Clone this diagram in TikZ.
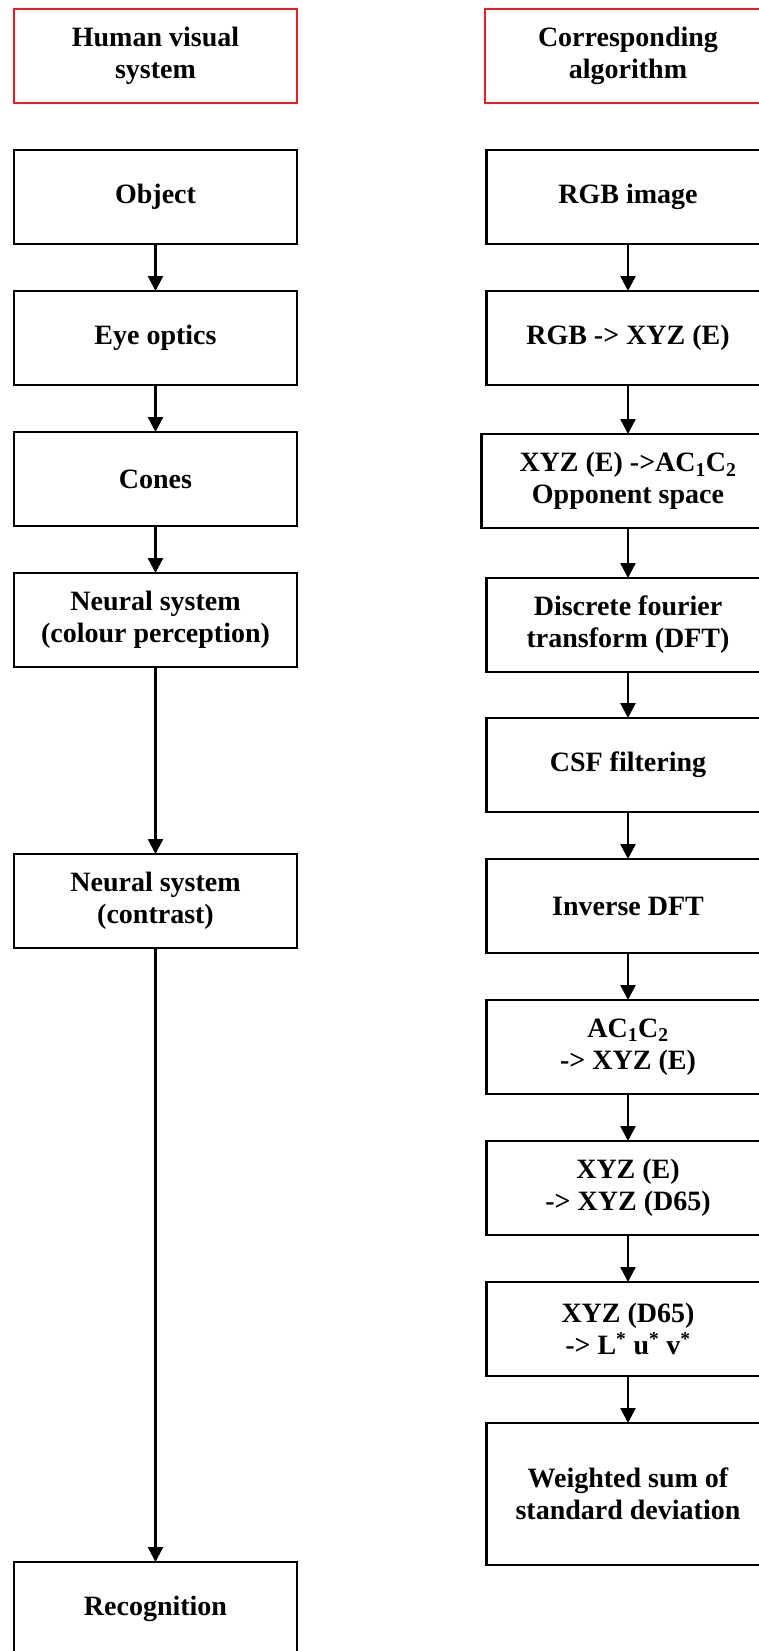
\documentclass[tikz,border=0pt]{standalone}
\usepackage{fontspec}
\setmainfont{Liberation Serif}
\usepackage{tikz}
\usetikzlibrary{arrows.meta,positioning}
\definecolor{headred}{RGB}{237,28,36}

\begin{document}
\begin{tikzpicture}[x=1pt, y=1pt, node distance=47pt,
  font=\bfseries\fontsize{28}{32}\selectfont,
  box/.style={draw=black, line width=2.4pt, outer sep=0pt, minimum width=283pt, minimum height=94pt, align=center, inner sep=4pt},
  headbox/.style={box, draw=headred},
  flow/.style={-{Triangle[length=15pt,width=15pt]}, line width=2.4pt}]
  \useasboundingbox (0,0) rectangle (759,-1651);
  \clip (0,0) rectangle (759,-1651);
  % human visual system
  \node[headbox] (hvs) at (155.5,-56) {Human visual\\system};
  \node[box, below=of hvs] (obj) {Object};
  \node[box, below=of obj] (eye) {Eye optics};
  \node[box, below=of eye] (cones) {Cones};
  \node[box, below=of cones] (ncol) {Neural system\\(colour perception)};
  \node[box, below=187pt of ncol] (ncon) {Neural system\\(contrast)};
  \node[box, below=614pt of ncon] (recog) {Recognition};
  \draw[flow] (obj) -- (eye);
  \draw[flow] (eye) -- (cones);
  \draw[flow] (cones) -- (ncol);
  \draw[flow] (ncol) -- (ncon);
  \draw[flow] (ncon) -- (recog);
  % corresponding algorithm
  \node[headbox, minimum width=286pt] (alg) at (628,-56) {Corresponding\\algorithm};
  \node[box, below=of alg] (rgb) {RGB image};
  \node[box, below=of rgb] (toxyz) {RGB -> XYZ (E)};
  \node[box, minimum width=293pt, below=49pt of toxyz] (opp) {XYZ (E) ->AC\textsubscript{1}C\textsubscript{2}\\Opponent space};
  \node[box, below=50pt of opp] (dft) {Discrete fourier\\transform (DFT)};
  \node[box, below=46pt of dft] (csf) {CSF filtering};
  \node[box, below=of csf] (idft) {Inverse DFT};
  \node[box, below=of idft] (back) {AC\textsubscript{1}C\textsubscript{2}\\-> XYZ (E)};
  \node[box, below=of back] (d65) {XYZ (E)\\-> XYZ (D65)};
  \node[box, below=of d65] (luv) {XYZ (D65)\\-> L\textsuperscript{*} u\textsuperscript{*} v\textsuperscript{*}};
  \node[box, minimum height=142pt, below=of luv] (wsum) {Weighted sum of\\standard deviation};
  \draw[flow] (rgb) -- (toxyz);
  \draw[flow] (toxyz) -- (opp);
  \draw[flow] (opp) -- (dft);
  \draw[flow] (dft) -- (csf);
  \draw[flow] (csf) -- (idft);
  \draw[flow] (idft) -- (back);
  \draw[flow] (back) -- (d65);
  \draw[flow] (d65) -- (luv);
  \draw[flow] (luv) -- (wsum);
\end{tikzpicture}
\end{document}
